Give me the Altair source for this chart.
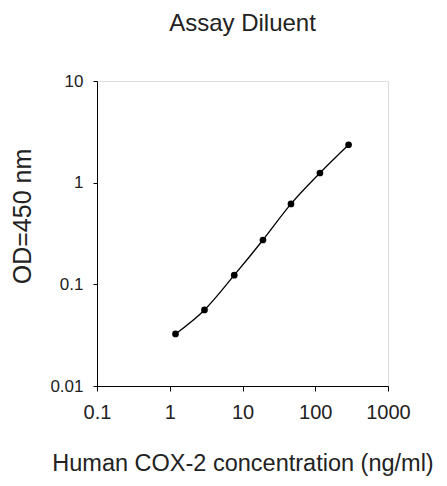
import altair as alt
import pandas as pd

concentration = [1.2, 3.0, 7.7, 19.1, 46.4, 116, 287]
od450 = [0.0325, 0.056, 0.123, 0.273, 0.618, 1.245, 2.36]
x_ticks = [0.1, 1, 10, 100, 1000]
y_ticks = [0.01, 0.1, 1, 10]

df = pd.DataFrame({"conc": concentration, "od": od450})

FONT = "Liberation Sans"

x_enc = alt.X(
    "conc:Q",
    scale=alt.Scale(type="log", domain=[0.1, 1000]),
    axis=alt.Axis(
        values=x_ticks,
        format="~g",
        title="Human COX-2 concentration (ng/ml)",
        grid=False,
        domainColor="black",
        tickColor="black",
        tickSize=5,
        labelFontSize=20,
        labelPadding=11,
        labelColor="#222",
        labelFont=FONT,
        titleFont=FONT,
        titleFontSize=23.5,
        titleFontWeight="normal",
        titleColor="#222",
        titlePadding=29,
        labelFlush=False,
    ),
)
y_enc = alt.Y(
    "od:Q",
    scale=alt.Scale(type="log", domain=[0.01, 10]),
    axis=alt.Axis(
        values=y_ticks,
        format="~g",
        title="OD=450 nm",
        grid=False,
        domainColor="black",
        tickColor="black",
        tickSize=4,
        labelFontSize=17,
        labelPadding=10,
        labelColor="#222",
        labelFont=FONT,
        titleFont=FONT,
        titleFontSize=25,
        titleFontWeight="normal",
        titleColor="#222",
        titleX=-62,
        titleY=135,
        titleAlign="center",
        titleBaseline="bottom",
        labelFlush=False,
    ),
)

line = alt.Chart(df).mark_line(color="black", strokeWidth=1.3, interpolate="monotone").encode(x=x_enc, y=y_enc)
pts = alt.Chart(df).mark_point(filled=True, color="black", size=45, opacity=1).encode(x="conc:Q", y="od:Q")

chart = (
    alt.layer(line, pts)
    .properties(
        width=291,
        height=305,
        title=alt.TitleParams(
            "Assay Diluent",
            font=FONT,
            fontSize=24,
            fontWeight="normal",
            color="#222",
            anchor="middle",
            offset=36,
        ),
        autosize=alt.AutoSizeParams(type="none"),
        padding={"left": 89, "top": 73, "right": 51, "bottom": 92},
    )
    .configure_view(stroke="black", strokeWidth=1)
    .configure(background="white")
)

chart.save("out.html", embed_options={"renderer": "svg", "actions": False})
